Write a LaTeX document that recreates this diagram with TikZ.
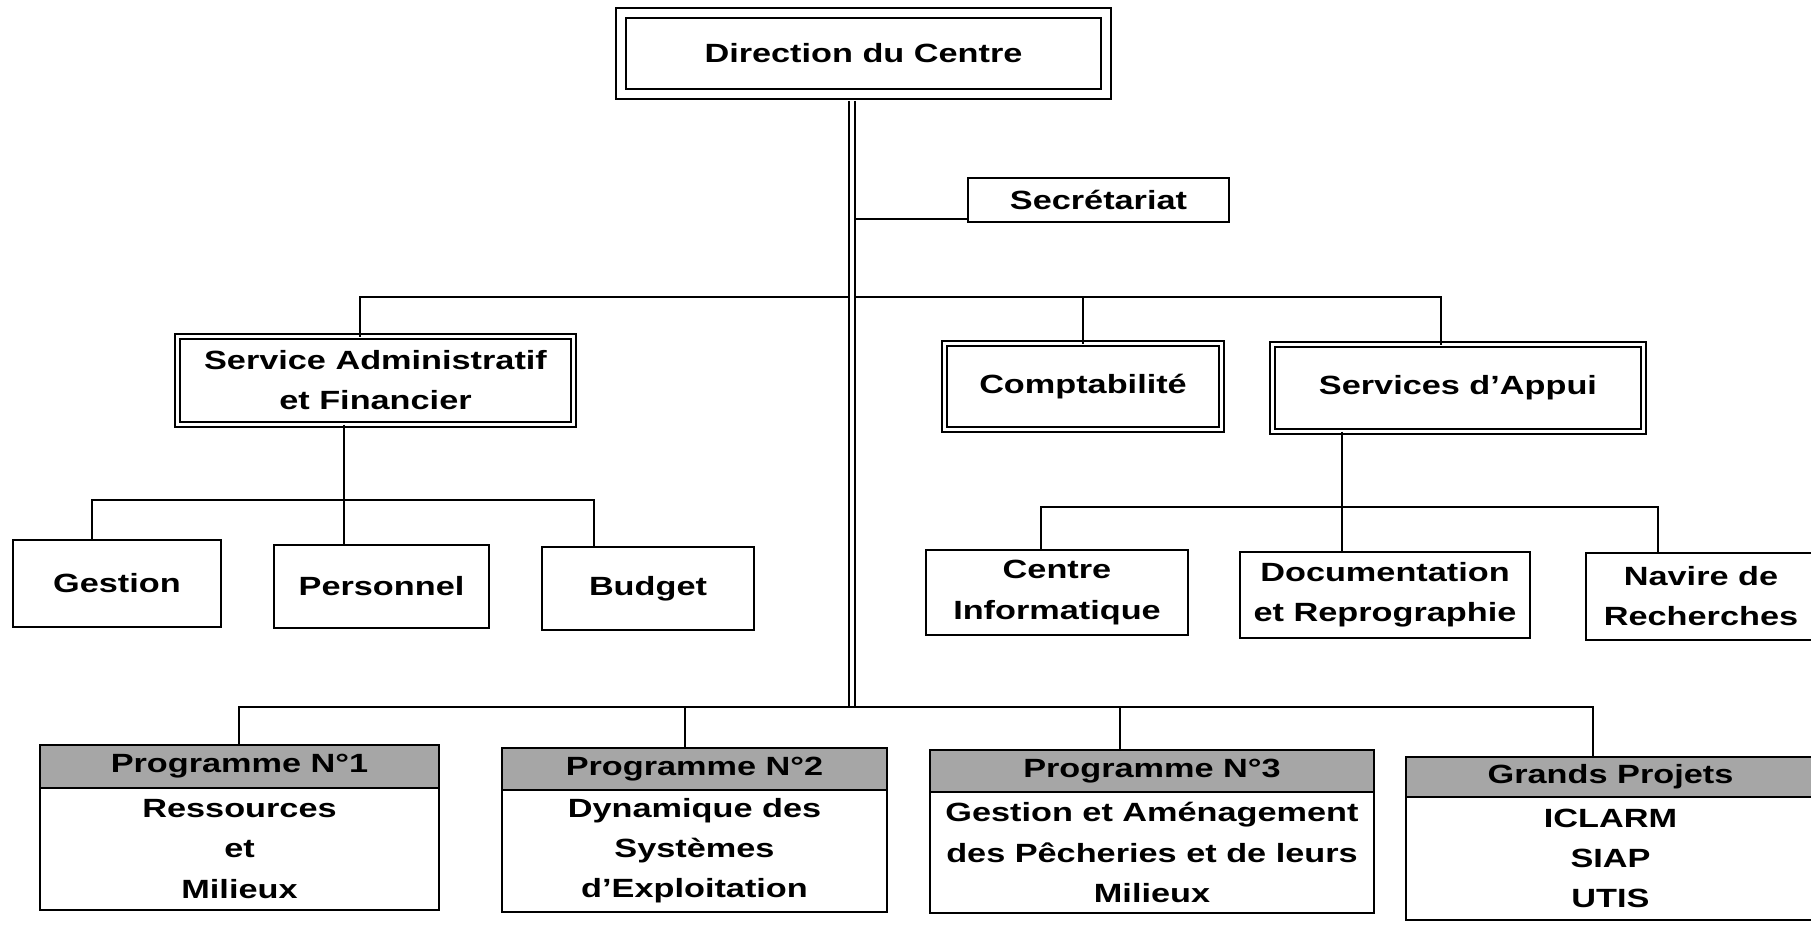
\documentclass[tikz,border=0pt]{standalone}
\usepackage{fontspec}
\newfontfamily\orgfont{Liberation Sans}[FakeStretch=1.3]
\usetikzlibrary{positioning}

\begin{document}
\begin{tikzpicture}[x=0.2mm,y=-0.2mm,
  box/.style={draw,line width=0.35mm,inner sep=0pt,outer sep=0pt,align=center,
    font=\orgfont\bfseries\fontsize{15}{22.8}\selectfont},
  dbox/.style={box,double,double distance=0.7mm},
  topbox/.style={box,double,double distance=1.6mm,line width=0.4mm},
  head/.style={box,fill=black!35},
  link/.style={line width=0.4mm},
  trunk/.style={line width=0.45mm,double,double distance=0.8mm}]
\useasboundingbox (0,0) rectangle (1811,925);

\node[topbox,minimum width=97mm,minimum height=16.2mm] (dir) at (863.5,53.5) {Direction du Centre};
\node[box,minimum width=52.2mm,minimum height=8.8mm] (sec) at (1098.5,200) {Secrétariat};

\node[dbox,minimum width=79.2mm,minimum height=17.6mm] (sadm) at (375.5,380.5) {Service Administratif\\et Financier};
\node[dbox,minimum width=55.4mm,minimum height=17.2mm] (compta) at (1083,386.5) {Comptabilité};
\node[dbox,minimum width=74.2mm,minimum height=17.4mm] (appui) at (1458,388) {Services d’Appui};

\node[box,minimum width=41.6mm,minimum height=17.4mm] (gestion) at (117,583.5) {Gestion};
\node[box,minimum width=43mm,minimum height=16.6mm] (perso) at (381.5,586.5) {Personnel};
\node[box,minimum width=42.4mm,minimum height=16.6mm] (budget) at (648,588.5) {Budget};

\node[box,minimum width=52.4mm,minimum height=17mm] (info) at (1057,592.5) {Centre\\Informatique};
\node[box,minimum width=58mm,minimum height=17.2mm] (docu) at (1385,595) {Documentation\\et Reprographie};
\node[box,minimum width=46mm,minimum height=17.4mm] (navire) at (1701,596.5) {Navire de\\Recherches};

\node[head,minimum width=79.8mm,minimum height=8.6mm] (p1h) at (239.5,766.5) {Programme N°1};
\node[box,minimum width=79.8mm,minimum height=24.4mm,below=0pt of p1h] (p1) {Ressources\\et\\Milieux};
\node[head,minimum width=77mm,minimum height=8.4mm] (p2h) at (694.5,769) {Programme N°2};
\node[box,minimum width=77mm,minimum height=24.4mm,below=0pt of p2h] (p2) {Dynamique des\\Systèmes\\d’Exploitation};
\node[head,minimum width=88.8mm,minimum height=8.4mm] (p3h) at (1152,771) {Programme N°3};
\node[box,minimum width=88.8mm,minimum height=24.2mm,below=0pt of p3h] (p3) {Gestion et Aménagement\\des Pêcheries et de leurs\\Milieux};
\node[head,minimum width=81.8mm,minimum height=8mm] (gph) at (1610.5,777) {Grands Projets};
\node[box,minimum width=81.8mm,minimum height=24.6mm,below=0pt of gph] (gp) {ICLARM\\SIAP\\UTIS};

\coordinate (t0) at (852,101);
\coordinate (t1) at (852,706);
\coordinate (s1) at (852,219);
\coordinate (b1l) at (360,297);
\coordinate (b1r) at (1441,297);
\coordinate (b2) at (344,500);
\coordinate (b2l) at (92,500);
\coordinate (b2r) at (594,500);
\coordinate (b3) at (1342,507);
\coordinate (b3l) at (1041,507);
\coordinate (b3r) at (1658,507);
\coordinate (b4l) at (239,707);
\coordinate (b4a) at (685,707);
\coordinate (b4b) at (1120,707);
\coordinate (b4r) at (1593,707);

\draw[link] (s1) -- (s1 -| sec.west);
\draw[link] (b1l |- sadm.north) -- (b1l) -- (b1r) -- (b1r |- appui.north);
\draw[link] (compta.north) -- (compta.north |- b1l);
\draw[link] (b2 |- sadm.south) -- (b2 |- perso.north);
\draw[link] (b2l |- gestion.north) -- (b2l) -- (b2r) -- (b2r |- budget.north);
\draw[link] (b3 |- appui.south) -- (b3 |- docu.north);
\draw[link] (b3l |- info.north) -- (b3l) -- (b3r) -- (b3r |- navire.north);
\draw[link] (b4l |- p1h.north) -- (b4l) -- (b4r) -- (b4r |- gph.north);
\draw[link] (b4a) -- (b4a |- p2h.north);
\draw[link] (b4b) -- (b4b |- p3h.north);
\draw[trunk] (t0) -- (t1);
\end{tikzpicture}
\end{document}
